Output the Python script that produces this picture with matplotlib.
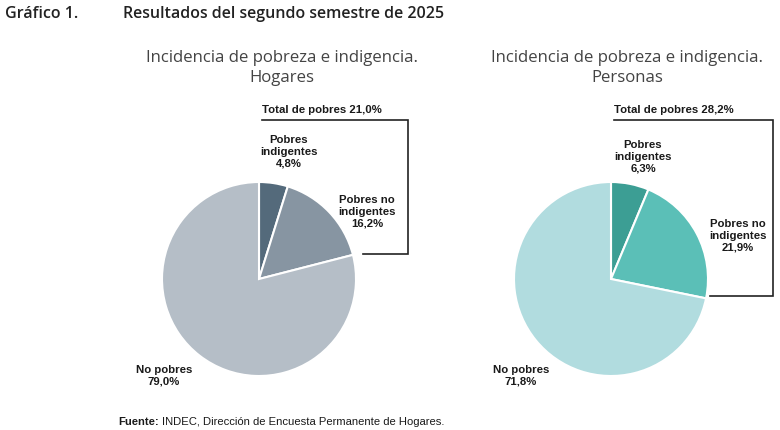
import matplotlib.pyplot as plt

# data
categorias = ['Pobres indigentes', 'Pobres no indigentes', 'No pobres']
hogares = [4.8, 16.2, 79.0]
personas = [6.3, 21.9, 71.8]
total_hogares = 21.0
total_personas = 28.2

colores_hogares = ['#546a7b', '#8795a2', '#b5bec7']
colores_personas = ['#3c9e94', '#5bbfb7', '#b1dcdf']

W, H = 780, 431


def fmt(v):
    return f'{v:.1f}'.replace('.', ',') + '%'


fig = plt.figure(figsize=(W / 100, H / 100), dpi=100)
ax = fig.add_axes([0, 0, 1, 1])
ax.set_xlim(0, W)
ax.set_ylim(0, H)
ax.axis('off')


def Y(y):
    # pixel-from-top to data coordinates
    return H - y


lab = dict(family='Liberation Sans', stretch='normal', fontsize=8.2, fontweight='bold',
           color='#1a1a1a', ha='center', va='center', linespacing=1.2)
sub = dict(family='Open Sans', fontsize=12.1, fontweight='normal', color='#444444',
           ha='center', va='center')


def panel(valores, colores, total, cx, titulo_x, nombre, br_x, br_y, lab_ind, lab_noind, lab_no):
    ax.pie(valores, colors=colores, startangle=90, counterclock=False,
           center=(cx, Y(280)), radius=97, frame=True,
           wedgeprops=dict(edgecolor='white', linewidth=1.5))
    ax.text(titulo_x, Y(58), 'Incidencia de pobreza e indigencia.', **sub)
    ax.text(titulo_x, Y(78), nombre, **sub)
    ax.text(cx + 3, Y(110), f'Total de pobres {fmt(total)}', family='Liberation Sans',
            stretch='normal', fontsize=8.2, fontweight='bold', color='#1a1a1a',
            ha='left', va='center')
    ax.plot([cx + 3, br_x, br_x, br_y[1]], [Y(121), Y(121), Y(br_y[0]), Y(br_y[0])],
            color='#222222', lw=1.2, solid_joinstyle='miter')
    ax.text(lab_ind[0], Y(lab_ind[1]), f'Pobres\nindigentes\n{fmt(valores[0])}', **lab)
    ax.text(lab_noind[0], Y(lab_noind[1]), f'Pobres no\nindigentes\n{fmt(valores[1])}', **lab)
    ax.text(lab_no[0], Y(lab_no[1]), f'No pobres\n{fmt(valores[2])}', **lab)


panel(hogares, colores_hogares, total_hogares, 259, 282, 'Hogares',
      408, (255, 363), (289, 152), (367, 212), (164, 376))
panel(personas, colores_personas, total_personas, 611, 627, 'Personas',
      773, (297, 710), (643, 157), (738, 236), (521, 376))

ax.set_xlim(0, W)
ax.set_ylim(0, H)

ax.text(5, Y(14), 'Gráfico 1.', family='Open Sans', fontsize=11.5, fontweight='semibold',
        color='#222222', ha='left', va='center')
ax.text(123, Y(14), 'Resultados del segundo semestre de 2025', family='Open Sans',
        fontsize=11.5, fontweight='semibold', color='#222222', ha='left', va='center')

t = ax.text(118, Y(422), 'Fuente:', family='Liberation Sans', stretch='normal',
            fontsize=8.1, fontweight='bold', color='#1a1a1a', ha='left', va='center')
fig.canvas.draw()
bb = t.get_window_extent()
ax.text(118 + bb.width + 3, Y(422), 'INDEC, Dirección de Encuesta Permanente de Hogares.',
        family='Liberation Sans', stretch='normal', fontsize=8.1, color='#1a1a1a',
        ha='left', va='center')

fig.savefig('out.png', dpi=100, facecolor='white')
